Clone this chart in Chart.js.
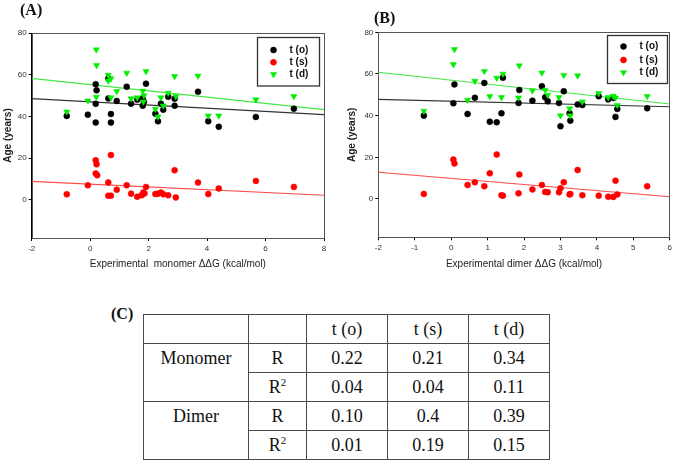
<!DOCTYPE html>
<html>
<head>
<meta charset="utf-8">
<script src="https://cdn.jsdelivr.net/npm/chart.js@4"></script>
<style>
  body { margin: 0; background: #fff; }
  #wrap { position: relative; width: 675px; height: 465px; background: #fff; overflow: hidden; }
  canvas { position: absolute; top: 0; }
  .plabel { position: absolute; font: bold 16px "Liberation Serif", serif; line-height: 1; color: #111; }
  #tbl { position: absolute; left: 143px; top: 314px; border-collapse: collapse;
         font: 18px "Liberation Serif", serif; color: #111; }
  #tbl td { border: 1.5px solid #4a4a4a; text-align: center; padding: 0; height: 28px; line-height: 28px; }
  #tbl td.grp { vertical-align: top; }
  #tbl sup { font-size: 11px; line-height: 0; vertical-align: 7px; }
</style>
</head>
<body>
<div id="wrap">
  <canvas id="chartA" width="337" height="280" style="left:0"></canvas>
  <canvas id="chartB" width="338" height="280" style="left:337px"></canvas>
  <div class="plabel" style="left:20px;top:2px">(A)</div>
  <div class="plabel" style="left:374px;top:10px">(B)</div>
  <div class="plabel" style="left:111px;top:306px">(C)</div>
  <table id="tbl"></table>
</div>
<script>
// panel A: experimental monomer ddG vs age
const aOx = [-0.80, -0.08, 0.19, 0.22, 0.19, 0.19, 0.62, 0.62, 0.71, 0.71, 0.91, 1.25, 1.40, 1.61, 1.80, 1.80, 1.84, 1.91, 2.23, 2.32, 2.42, 2.50, 2.67, 2.89, 2.89, 3.69, 4.04, 4.40, 5.67, 6.97];
const aOy = [40.2, 40.8, 55.4, 52.5, 46.0, 37.0, 58.2, 48.6, 41.1, 37.0, 47.4, 54.2, 46.1, 48.0, 48.6, 45.1, 47.0, 55.7, 41.3, 37.6, 46.1, 43.2, 49.4, 48.5, 45.1, 51.8, 37.6, 35.0, 39.7, 43.7];
const aSx = [-0.80, -0.08, 0.19, 0.22, 0.19, 0.24, 0.62, 0.62, 0.71, 0.71, 0.91, 1.25, 1.40, 1.61, 1.76, 1.82, 1.86, 1.91, 2.23, 2.32, 2.42, 2.50, 2.67, 2.89, 2.93, 3.69, 4.04, 4.40, 5.67, 6.97];
const aSy = [2.6, 6.9, 18.9, 17.0, 12.6, 11.7, 8.3, 1.9, 1.9, 21.4, 4.8, 6.9, 2.9, 1.4, 2.1, 3.5, 3.0, 6.1, 2.7, 2.9, 3.4, 2.6, 2.1, 14.1, 1.1, 8.2, 2.7, 5.4, 9.0, 6.1];
const aDx = [-0.80, -0.08, 0.21, 0.22, 0.21, 0.62, 0.62, 0.71, 0.71, 0.91, 1.25, 1.40, 1.61, 1.80, 1.84, 1.82, 1.91, 2.23, 2.32, 2.42, 2.50, 2.67, 2.89, 2.93, 3.69, 4.04, 4.40, 5.67, 6.97];
const aDy = [42.2, 47.5, 72.0, 64.5, 49.3, 59.8, 57.0, 58.1, 49.0, 52.0, 60.8, 48.5, 49.0, 52.2, 50.0, 47.0, 61.6, 43.5, 39.8, 49.0, 45.1, 51.2, 59.2, 49.6, 59.4, 40.3, 40.3, 48.0, 49.6];

// panel B: experimental dimer ddG vs age
const bOx = [-0.75, 0.06, 0.09, 0.45, 0.65, 0.91, 1.06, 1.25, 1.38, 1.42, 1.87, 1.85, 2.23, 2.49, 2.58, 2.65, 2.96, 3.00, 3.09, 3.25, 3.27, 3.47, 3.60, 4.05, 4.31, 4.45, 4.51, 4.56, 5.38];
const bOy = [40.0, 45.9, 55.0, 40.8, 48.6, 55.7, 37.1, 36.8, 41.1, 58.2, 52.3, 46.1, 47.2, 54.1, 48.8, 46.9, 46.1, 34.9, 51.7, 41.1, 37.6, 45.4, 45.1, 49.3, 47.8, 48.5, 39.4, 43.2, 43.5];
const bSx = [-0.75, 0.06, 0.09, 0.45, 0.65, 0.91, 1.06, 1.25, 1.38, 1.42, 1.87, 1.85, 2.23, 2.49, 2.58, 2.65, 2.96, 3.00, 3.09, 3.25, 3.27, 3.47, 3.60, 4.05, 4.31, 4.45, 4.51, 4.56, 5.38];
const bSy = [2.4, 18.9, 17.0, 6.7, 8.0, 6.1, 12.3, 21.3, 1.8, 1.6, 11.7, 2.7, 4.6, 6.7, 3.4, 3.2, 3.2, 5.1, 8.0, 2.2, 2.4, 13.9, 1.8, 1.6, 1.1, 1.0, 8.8, 2.2, 6.1];
const bDx = [-0.75, 0.06, 0.09, 0.45, 0.65, 0.91, 1.06, 1.25, 1.38, 1.42, 1.87, 1.85, 2.23, 2.49, 2.58, 2.65, 2.96, 3.00, 3.09, 3.25, 3.27, 3.47, 3.60, 4.05, 4.31, 4.45, 4.51, 4.56, 5.38];
const bDy = [42.2, 64.6, 71.8, 47.5, 56.6, 61.3, 49.3, 58.1, 48.8, 60.0, 64.0, 48.6, 52.0, 60.6, 52.3, 49.9, 48.8, 40.0, 59.4, 43.4, 40.0, 59.2, 46.7, 50.7, 48.8, 49.4, 48.6, 45.0, 49.3];

// regression lines, value at each end of the x range
const fitXA = [-2, 8];
const fitAO = [48.5, 40.8];
const fitAS = [8.8, 2.1];
const fitAD = [58.2, 43.2];
const fitXB = [-2, 6];
const fitBO = [47.8, 44.3];
const fitBS = [12.8, 1.1];
const fitBD = [60.8, 45.6];

const seriesNames = ["t (o)", "t (s)", "t (d)"];

// table C
const tableCols = ["t (o)", "t (s)", "t (d)"];
const tableGroups = ["Monomer", "Dimer"];
const monomerR = ["0.22", "0.21", "0.34"];
const monomerR2 = ["0.04", "0.04", "0.11"];
const dimerR = ["0.10", "0.4", "0.39"];
const dimerR2 = ["0.01", "0.19", "0.15"];

const FONT = "'Liberation Sans', Arial, sans-serif";
const colO = "#000000", colS = "#ff0000", colD = "#00ee00";

const pts = (xs, ys) => xs.map((x, i) => ({ x: x, y: ys[i] }));

const frame = {
    id: "frame",
    beforeDatasetsDraw(chart) {
        const a = chart.chartArea, c = chart.ctx;
        c.save();
        c.strokeStyle = "#555";
        c.lineWidth = 1;
        c.strokeRect(Math.round(a.left) + 0.5, Math.round(a.top) + 0.5,
            Math.round(a.right - a.left), Math.round(a.bottom - a.top));
        c.restore();
    }
};

const boxLegend = {
    id: "boxLegend",
    afterDraw(chart, args, o) {
        const c = chart.ctx;
        c.save();
        c.fillStyle = "#fff";
        c.fillRect(o.x, o.y, o.w, o.h);
        c.strokeStyle = "#333";
        c.lineWidth = 1.3;
        c.strokeRect(o.x, o.y, o.w, o.h);
        c.font = "bold 10px " + FONT;
        c.textBaseline = "middle";
        chart.data.datasets.slice(0, 3).forEach((ds, i) => {
            const y = o.rows[i];
            c.fillStyle = ds.backgroundColor;
            c.strokeStyle = ds.borderColor;
            c.lineWidth = 0.5;
            Chart.helpers.drawPoint(c, {
                pointStyle: ds.pointStyle || "circle",
                radius: ds.pointRadius,
                rotation: ds.rotation || 0,
                borderWidth: 0.5
            }, o.mx, y);
            c.fillStyle = "#111";
            c.fillText(ds.label, o.tx, y);
        });
        c.restore();
    }
};

function makeScatter(id, s, fitX, fits, xStep, xMax, xTitle, lay, legendOpts) {
    const markers = [
        { label: seriesNames[0], data: pts(s[0], s[1]), backgroundColor: colO, borderColor: colO, pointRadius: 3, order: 2 },
        { label: seriesNames[1], data: pts(s[2], s[3]), backgroundColor: colS, borderColor: colS, pointRadius: 3, order: 1 },
        { label: seriesNames[2], data: pts(s[4], s[5]), backgroundColor: colD, borderColor: colD, pointRadius: 3.6,
          pointStyle: "triangle", rotation: 180, order: 0 }
    ];
    markers.forEach(m => { m.borderWidth = 0.5; m.pointHoverRadius = m.pointRadius; });
    const lineCols = ["#333333", "#ff4a4a", "#44e844"];
    const lines = fits.map((f, i) => ({
        label: "fit " + seriesNames[i], data: pts(fitX, f), showLine: true, pointRadius: 0,
        borderColor: lineCols[i], borderWidth: 1.1, order: 5 + i
    }));
    return new Chart(document.getElementById(id), {
        type: "scatter",
        data: { datasets: markers.concat(lines) },
        plugins: [frame, boxLegend],
        options: {
            responsive: false,
            animation: false,
            devicePixelRatio: 1,
            layout: { padding: lay.padding },
            plugins: { legend: { display: false }, tooltip: { enabled: false }, boxLegend: legendOpts },
            scales: {
                x: {
                    min: -2, max: xMax,
                    border: { color: "#000", width: 1 },
                    grid: { drawOnChartArea: false, drawTicks: true, tickLength: 3, color: "#000" },
                    ticks: { stepSize: xStep, padding: 3, color: "#333", font: { family: FONT, size: 8 } },
                    title: { display: true, text: xTitle, color: "#222", padding: 0, font: { family: FONT, size: 10 } },
                    afterFit: sc => { sc.height = lay.xh; }
                },
                y: {
                    min: -18.4, max: 80,
                    border: { color: "#000", width: 1 },
                    grid: { drawOnChartArea: false, drawTicks: true, tickLength: 3, color: "#000" },
                    ticks: { stepSize: 20, padding: 2, color: "#333", font: { family: FONT, size: 8 } },
                    afterBuildTicks: sc => { sc.ticks = sc.ticks.filter(t => t.value % 20 === 0); },
                    title: { display: true, text: "Age (years)", color: "#222", padding: 0, font: { family: FONT, size: 10, weight: "bold" } },
                    afterFit: sc => { sc.width = lay.yw; }
                }
            }
        }
    });
}

makeScatter("chartA", [aOx, aOy, aSx, aSy, aDx, aDy], fitXA, [fitAO, fitAS, fitAD], 2, 8,
    "Experimental  monomer \u0394\u0394G (kcal/mol)",
    { padding: { left: 2, right: 13, top: 33, bottom: 10 }, yw: 29.7, xh: 32 },
    { x: 257.5, y: 37.5, w: 62, h: 48.5, mx: 273.5, tx: 289.5, rows: [50, 62.3, 74.3] });

makeScatter("chartB", [bOx, bOy, bSx, bSy, bDx, bDy], fitXB, [fitBO, fitBS, fitBD], 1, 6,
    "Experimental dimer \u0394\u0394G (kcal/mol)",
    { padding: { left: 9, right: 3.3, top: 32.3, bottom: 10 }, yw: 32.3, xh: 32.7 },
    { x: 270.5, y: 35.5, w: 60, h: 48, mx: 286.5, tx: 302.5, rows: [46.5, 60, 72.5] });

// table
const cells = vals => vals.map(v => `<td>${v}</td>`).join("");
const groupRows = [[monomerR, monomerR2], [dimerR, dimerR2]];
let html = "<tr><td style='width:104px'></td><td style='width:57px'></td>" +
    tableCols.map(c => `<td style="width:80px">${c}</td>`).join("") + "</tr>";
tableGroups.forEach((g, i) => {
    html += `<tr><td rowspan="2" class="grp">${g}</td><td>R</td>${cells(groupRows[i][0])}</tr>`;
    html += `<tr><td>R<sup>2</sup></td>${cells(groupRows[i][1])}</tr>`;
});
document.getElementById("tbl").innerHTML = html;
</script>
</body>
</html>
